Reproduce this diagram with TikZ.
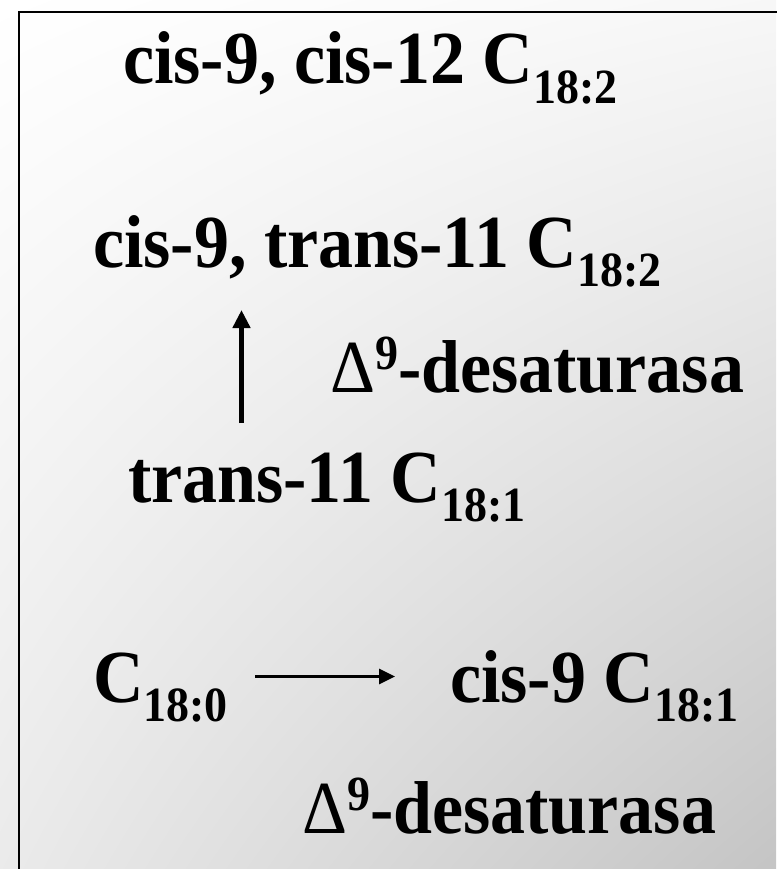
\documentclass[tikz,border=0pt]{standalone}
\usepackage{fontspec}
\setmainfont{Liberation Serif}
\usetikzlibrary{arrows.meta,shadings}
\newcommand{\subtx}[1]{\raisebox{-18pt}{\fontsize{46}{46}\selectfont #1}}
\newcommand{\suptx}[1]{\raisebox{21pt}{\fontsize{46}{46}\selectfont #1}}
\newcommand{\dlt}{{\mdseries\symbol{"0394}}}
\newcommand{\vstr}[1]{\scalebox{1}[1.07]{#1}}
\tikzset{
  lbl/.style={anchor=base west, inner sep=0pt, outer sep=0pt,
    font=\fontsize{70}{70}\selectfont\bfseries},
  thickarrow/.style={line width=5pt, -{Triangle[length=18pt,width=17pt]}},
  thinarrow/.style={line width=2.7pt, -{Triangle[length=16pt,width=15pt]}}
}
\begin{document}
\begin{tikzpicture}[x=1pt,y=-1pt]
\useasboundingbox (0,0) rectangle (776,869);
\shade[upper left=white, upper right=gray!6, lower left=gray!16, lower right=gray!46]
  (0,0) rectangle (776,869);
\draw[line width=2pt] (18.5,12) rectangle (800,900);
\node[lbl] (t1) at (123,84) {\vstr{cis-9, cis-12 C\subtx{18:2}}};
\node[lbl] (t2) at (93,267) {\vstr{cis-9, trans-11 C\subtx{18:2}}};
\node[lbl] (d1) at (330,392) {\vstr{\dlt\suptx{9}-desaturasa}};
\node[lbl] (t3) at (128,502) {\vstr{trans-11 C\subtx{18:1}}};
\node[lbl] (t4) at (93,702) {\vstr{C\subtx{18:0}}};
\node[lbl] (t5) at (450,702) {\vstr{cis-9 C\subtx{18:1}}};
\node[lbl] (d2) at (302,833) {\vstr{\dlt\suptx{9}-desaturasa}};
\coordinate (v0) at (241.5,423);
\coordinate (v1) at (241.5,310);
\coordinate (h0) at (255,676.5);
\coordinate (h1) at (395,676.5);
\draw[thickarrow] (v0) -- (v1);
\draw[thinarrow] (h0) -- (h1);
\end{tikzpicture}
\end{document}
